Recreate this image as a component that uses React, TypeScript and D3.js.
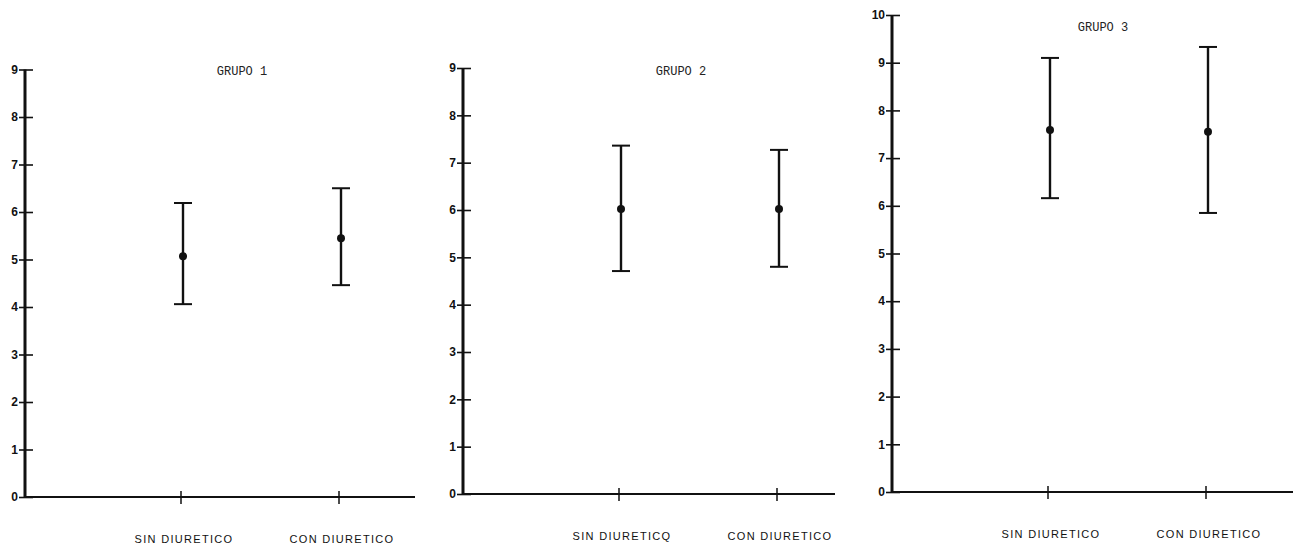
import React, { useEffect, useRef } from "react";
import * as d3 from "d3";

// data
const categories = ["SIN DIURETICO", "CON DIURETICO"];
const groups = ["GRUPO 1", "GRUPO 2", "GRUPO 3"];
const means = [
  [5.07, 5.45],
  [6.02, 6.02],
  [7.59, 7.55],
];
const upper = [
  [6.19, 6.5],
  [7.36, 7.27],
  [9.1, 9.33],
];
const lower = [
  [4.06, 4.46],
  [4.71, 4.8],
  [6.16, 5.85],
];
const yMax = [9, 9, 10];
const xLabels = [
  ["SIN DIURETICO", "CON DIURETICO"],
  ["SIN DIURETICQ", "CON DIURETICO"],
  ["SIN DIURETICO", "CON DIURETICO"],
];

const width = 1297;
const height = 547;

// panel layout (axis origin, length of x axis, top of y axis)
const panels = [
  { left: 25, right: 415, bottom: 497, top: 69.5, titleX: 242, titleY: 75 },
  { left: 463, right: 835, bottom: 494, top: 68, titleX: 681, titleY: 75 },
  { left: 892, right: 1293, bottom: 492, top: 15, titleX: 1103, titleY: 31 },
];

const App = () => {
  const svgRef = useRef(null);

  useEffect(() => {
    const svg = d3
      .select(svgRef.current)
      .attr("width", width)
      .attr("height", height)
      .attr("viewBox", [0, 0, width, height]);

    svg.selectAll("*").remove();

    svg
      .append("rect")
      .attr("width", width)
      .attr("height", height)
      .attr("fill", "#fff");

    panels.forEach((p, i) => {
      const g = svg.append("g");

      const x = d3
        .scalePoint()
        .domain(categories)
        .range([p.left + 156, p.left + 314]);

      const y = d3
        .scaleLinear()
        .domain([0, yMax[i]])
        .range([p.bottom, p.top]);

      // y axis
      const yAxis = g
        .append("g")
        .attr("transform", `translate(${p.left},0)`)
        .call(
          d3
            .axisRight(y)
            .ticks(yMax[i])
            .tickSize(8)
            .tickFormat(() => "")
        );
      yAxis
        .select(".domain")
        .attr("stroke", "#111")
        .attr("stroke-width", 3)
        .attr("d", `M0,${p.bottom}V${p.top}`);
      yAxis
        .selectAll(".tick line")
        .attr("x1", -6)
        .attr("stroke", "#111")
        .attr("stroke-width", 1.6);

      g.append("g")
        .selectAll("text")
        .data(y.ticks(yMax[i]))
        .join("text")
        .attr("x", p.left - 7)
        .attr("y", (d) => y(d))
        .attr("dy", "0.35em")
        .attr("text-anchor", "end")
        .attr("font-family", "Liberation Sans, Arial, sans-serif")
        .attr("font-weight", "bold")
        .attr("font-size", 12)
        .attr("fill", "#111")
        .text((d) => d);

      // x axis
      g.append("line")
        .attr("x1", p.left)
        .attr("x2", p.right)
        .attr("y1", p.bottom)
        .attr("y2", p.bottom)
        .attr("stroke", "#111")
        .attr("stroke-width", 2.2);

      g.append("g")
        .selectAll("line")
        .data(categories)
        .join("line")
        .attr("x1", (d) => x(d))
        .attr("x2", (d) => x(d))
        .attr("y1", p.bottom - 6)
        .attr("y2", p.bottom + 7)
        .attr("stroke", "#111")
        .attr("stroke-width", 1.5);

      g.append("g")
        .selectAll("text")
        .data(categories)
        .join("text")
        .attr("x", (d) => x(d) + 3)
        .attr("y", p.bottom + 46)
        .attr("text-anchor", "middle")
        .attr("font-family", "Liberation Sans, Arial, sans-serif")
        .attr("font-size", 11)
        .attr("letter-spacing", 1.3)
        .attr("fill", "#111")
        .text((d, j) => xLabels[i][j]);

      // title
      g.append("text")
        .attr("x", p.titleX)
        .attr("y", p.titleY)
        .attr("text-anchor", "middle")
        .attr("font-family", "Liberation Mono, DejaVu Sans Mono, monospace")
        .attr("font-size", 12)
        .attr("fill", "#222")
        .text(groups[i]);

      // error bars
      const bars = categories.map((c, j) => ({
        c,
        mean: means[i][j],
        hi: upper[i][j],
        lo: lower[i][j],
      }));

      const eb = g
        .append("g")
        .attr("stroke", "#111")
        .selectAll("g")
        .data(bars)
        .join("g");

      eb.append("line")
        .attr("x1", (d) => x(d.c) + 2)
        .attr("x2", (d) => x(d.c) + 2)
        .attr("y1", (d) => y(d.hi))
        .attr("y2", (d) => y(d.lo))
        .attr("stroke-width", 2.4);

      eb.selectAll(".cap")
        .data((d) => [
          { c: d.c, v: d.hi },
          { c: d.c, v: d.lo },
        ])
        .join("line")
        .attr("class", "cap")
        .attr("x1", (d) => x(d.c) - 7)
        .attr("x2", (d) => x(d.c) + 11)
        .attr("y1", (d) => y(d.v))
        .attr("y2", (d) => y(d.v))
        .attr("stroke-width", 2);

      eb.append("circle")
        .attr("cx", (d) => x(d.c) + 2)
        .attr("cy", (d) => y(d.mean))
        .attr("r", 4)
        .attr("fill", "#111")
        .attr("stroke", "none");
    });
  }, []);

  return (
    <svg
      ref={svgRef}
      style={{ position: "absolute", left: 0, top: 0, display: "block" }}
    />
  );
};

export default App;
